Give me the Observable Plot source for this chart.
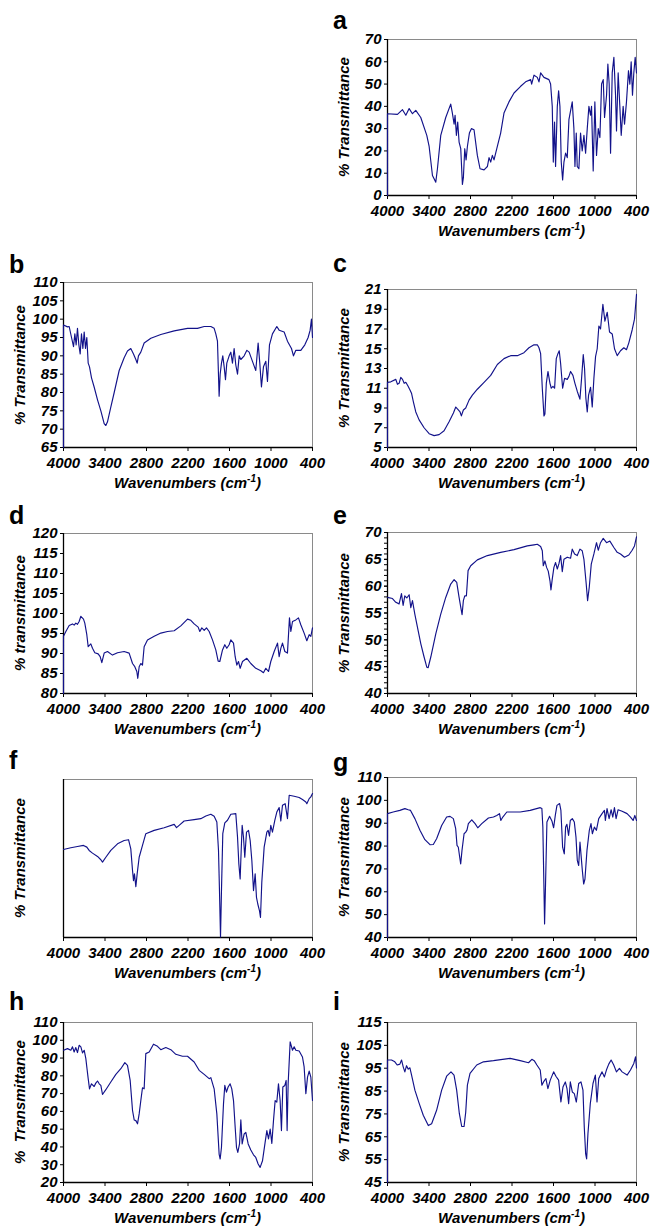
<!DOCTYPE html>
<html><head><meta charset="utf-8">
<script src="https://cdn.jsdelivr.net/npm/d3@7"></script>
<script src="https://cdn.jsdelivr.net/npm/@observablehq/plot@0.6"></script>
<style>
body{margin:0;background:#fff;}
#fig{position:relative;width:651px;height:1226px;overflow:hidden;font-family:"Liberation Sans",Arial,sans-serif;color:#000;}
.letter{position:absolute;font-weight:bold;font-size:25px;line-height:25px;white-space:nowrap;}
.xl{position:absolute;font-weight:bold;font-style:italic;font-size:15px;line-height:15px;white-space:nowrap;transform:translateX(-50%);}
.xl sup{font-size:10px;position:relative;top:-6px;vertical-align:baseline;line-height:0;}
.yl{position:absolute;font-weight:bold;font-style:italic;font-size:15px;line-height:15px;white-space:pre;transform:translate(-50%,-50%) rotate(-90deg);}
</style>
</head><body><div id="fig"></div>
<script>
// x axis (wavenumbers, cm-1)
const xTicks = [4000, 3400, 2800, 2200, 1600, 1000, 400];

// y tick values per panel
const aTicks = [0, 10, 20, 30, 40, 50, 60, 70];
const bTicks = [65, 70, 75, 80, 85, 90, 95, 100, 105, 110];
const cTicks = [5, 7, 9, 11, 13, 15, 17, 19, 21];
const dTicks = [80, 85, 90, 95, 100, 105, 110, 115, 120];
const eTicks = [40, 45, 50, 55, 60, 65, 70];
const eMinor = [40,41,42,43,44,45,46,47,48,49,50,51,52,53,54,55,56,57,58,59,60,61,62,63,64,65,66,67,68,69,70];
const fTicks = [];
const gTicks = [40, 50, 60, 70, 80, 90, 100, 110];
const hTicks = [20, 30, 40, 50, 60, 70, 80, 90, 100, 110];
const iTicks = [45, 55, 65, 75, 85, 95, 105, 115];

// spectra: [wavenumber, % transmittance]
const specA = [[4000,0],[4000,36.7],[3856,36.4],[3783,38.5],[3735,36],[3687,39],[3639,36.7],[3591,38.2],[3519,35],[3432,27],[3398,22],[3350,9],[3302,6],[3278,12],[3230,27],[3158,35],[3086,41],[3062,37],[3037,32],[3023,36],[3004,27],[2985,33],[2965,24],[2941,21],[2917,5],[2903,8],[2883,21],[2864,16],[2845,22],[2816,28],[2787,30],[2749,29.5],[2701,18],[2662,12],[2604,11.5],[2556,13],[2532,17],[2508,15],[2484,18],[2460,16],[2412,22],[2364,28],[2316,37],[2244,42],[2171,46],[2075,49],[2003,51],[1930,52],[1916,50],[1882,54],[1834,53],[1810,51],[1786,55],[1738,53],[1666,52],[1642,50],[1618,40],[1603,15],[1585,33],[1570,13],[1545,40],[1526,47],[1507,40],[1488,15],[1468,7],[1449,15],[1425,19],[1401,17],[1377,34],[1329,42],[1305,30],[1290,13],[1271,28],[1257,13],[1233,12],[1209,28],[1185,20],[1160,27],[1136,19],[1112,30],[1088,40],[1064,36],[1050,40],[1026,11],[1002,42],[978,18],[953,30],[929,26],[905,50],[881,52],[862,35],[833,45],[814,59],[795,50],[775,19],[751,55],[727,62],[703,45],[689,29],[665,55],[641,40],[621,27],[593,40],[573,32],[545,42],[516,56],[496,50],[477,60],[458,45],[439,55],[419,62],[400,55]];
const specB = [[4000,65],[4000,98.4],[3942,97.9],[3918,98],[3884,95],[3855,92.5],[3836,96],[3817,93],[3798,97.5],[3778,93],[3759,90.5],[3740,96],[3720,92],[3701,96.5],[3682,92],[3663,95],[3643,88],[3624,87],[3595,84],[3557,81.5],[3508,78],[3460,75],[3412,71.5],[3388,71],[3364,72],[3316,76],[3267,80],[3195,86],[3123,89.5],[3075,91.3],[3027,92],[2988,90.5],[2954,89],[2935,88],[2916,90],[2882,91],[2834,93.5],[2737,94.8],[2593,95.8],[2400,96.8],[2207,97.5],[2063,97.5],[1966,98],[1870,98],[1822,97.5],[1798,96],[1774,94],[1750,79],[1735,85],[1716,88],[1697,90],[1677,87],[1658,83.5],[1639,88],[1605,90],[1581,91],[1557,88],[1533,92],[1509,87.5],[1484,85],[1460,90],[1436,89],[1388,90],[1349,91.5],[1316,91],[1268,88.5],[1220,86],[1186,93.5],[1162,88],[1138,81.5],[1109,87],[1075,88.5],[1051,83],[1022,93],[979,96],[916,98],[882,97],[810,96.5],[762,94],[704,92],[675,90],[641,91.5],[569,91.5],[511,93],[463,95],[434,97],[415,100],[400,95]];
const specC = [[4000,5],[4000,11.6],[3952,11.65],[3880,11.9],[3856,11.4],[3832,11.5],[3808,12.1],[3783,11.9],[3759,11.5],[3735,11.6],[3702,11.2],[3673,10.8],[3653,10.5],[3625,9.6],[3591,8.6],[3543,7.8],[3471,7.0],[3398,6.4],[3326,6.2],[3254,6.3],[3182,6.7],[3110,7.6],[3047,8.5],[3013,9.1],[2989,8.9],[2951,8.6],[2932,8.2],[2903,8.8],[2869,9.0],[2821,9.8],[2773,10.3],[2701,10.9],[2604,11.6],[2508,12.3],[2412,13.4],[2316,14.0],[2219,14.3],[2123,14.3],[2027,14.6],[1955,15.1],[1882,15.4],[1834,15.4],[1810,15.1],[1786,14.5],[1762,11.0],[1738,8.2],[1724,8.4],[1704,11.5],[1680,12.7],[1651,11.5],[1632,11.0],[1608,11.2],[1584,11.0],[1560,14.0],[1536,14.5],[1517,14.8],[1497,13.5],[1468,11.0],[1440,12.0],[1401,11.9],[1377,12.2],[1353,12.7],[1319,12.3],[1290,11.5],[1257,10.7],[1218,9.9],[1194,12.0],[1170,14.4],[1151,13.0],[1132,10.0],[1112,8.6],[1093,10.3],[1064,11.1],[1040,9.1],[1016,12.0],[992,14.2],[968,15.0],[944,17.3],[920,17.0],[886,19.5],[857,17.8],[823,18.7],[790,16.7],[751,16.5],[718,15.0],[679,14.3],[631,14.8],[583,15.1],[545,14.9],[511,15.6],[463,16.9],[429,18.0],[400,20.5]];
const specD = [[4000,80],[4000,94.3],[3966,95.5],[3918,97],[3870,97.4],[3846,97.1],[3822,97.6],[3798,97.3],[3774,98],[3749,99.3],[3711,98.6],[3692,97.6],[3663,94.7],[3643,91.7],[3605,92.4],[3581,91.3],[3547,90.2],[3499,89.9],[3470,89.2],[3446,87.7],[3412,90.1],[3364,90.5],[3292,89.6],[3219,90.2],[3123,90.5],[3051,90.1],[3002,87.5],[2969,86.7],[2940,85.5],[2926,83.8],[2906,86.7],[2882,87.5],[2858,87.1],[2834,91.7],[2786,93.4],[2689,94.3],[2593,95.1],[2496,95.5],[2400,95.7],[2304,96.9],[2207,98.6],[2159,98.3],[2111,97.4],[2053,96.6],[2029,95.5],[2000,96.4],[1966,95.8],[1933,96.4],[1894,95.5],[1846,93.4],[1798,90.9],[1764,88.1],[1740,88],[1701,90.9],[1668,92.2],[1639,91.3],[1605,92.2],[1581,93.4],[1542,92.6],[1518,89.2],[1494,87.1],[1470,88.0],[1446,86.3],[1412,88.0],[1349,88.8],[1292,87.5],[1220,86.3],[1147,85.7],[1109,85.2],[1075,86.3],[1036,85.5],[1003,88.0],[954,90.5],[906,92.6],[882,89.2],[858,91.3],[834,92.6],[800,90.5],[762,90.1],[733,98.9],[713,95.5],[689,98.0],[641,98.4],[603,98.9],[569,97.2],[521,95.1],[482,93.2],[448,94.7],[424,94.3],[400,96.4]];
const specE = [[4000,57.9],[3928,57.7],[3880,57.0],[3832,56.7],[3798,58.6],[3774,56.4],[3750,58.2],[3721,57.8],[3687,58.4],[3663,56.0],[3639,57.3],[3605,54.8],[3557,51.7],[3519,49.3],[3471,46.8],[3432,44.9],[3413,44.8],[3374,46.8],[3302,51.1],[3230,54.8],[3158,57.9],[3086,60.4],[3037,61.2],[2999,60.7],[2965,57.9],[2941,56.1],[2922,54.7],[2903,57.3],[2883,58.2],[2859,58.2],[2835,62.9],[2797,63.8],[2701,64.9],[2556,65.7],[2364,66.3],[2171,66.8],[1979,67.5],[1882,67.7],[1834,67.8],[1786,67.4],[1762,66.6],[1748,63.8],[1724,64.7],[1700,63.5],[1676,62.8],[1651,61.0],[1637,59.3],[1618,61.3],[1594,63.5],[1570,64.4],[1545,63.2],[1521,64.2],[1497,65.7],[1473,62.7],[1449,65.0],[1401,65.4],[1353,65.2],[1329,66.9],[1295,66.0],[1257,65.7],[1218,66.9],[1185,66.6],[1160,65.0],[1127,60.4],[1107,57.3],[1083,59.8],[1054,64.1],[1016,66.0],[978,68.1],[953,66.7],[920,68.1],[881,68.9],[833,68.1],[785,68.4],[727,67.2],[679,66.3],[631,66.0],[574,65.4],[511,65.8],[463,66.7],[429,67.5],[400,69.2]];
const specF = [[4000,55.7],[3894,56.8],[3798,57.6],[3711,58.3],[3663,57.2],[3629,55.1],[3581,53.4],[3508,51.3],[3460,49.2],[3436,47.7],[3388,50.8],[3316,55.1],[3219,59.3],[3123,61.4],[3060,61.9],[3027,56.1],[3002,42.4],[2988,36.0],[2974,40.3],[2954,32.2],[2935,40.3],[2906,50.8],[2858,58.3],[2810,65.7],[2689,67.8],[2545,69.5],[2400,71.6],[2366,69.5],[2328,71.0],[2256,73.7],[2111,74.6],[2015,75.2],[1942,76.9],[1870,78.0],[1822,76.7],[1783,73.1],[1759,55.1],[1745,29.7],[1730,0.4],[1716,29.7],[1697,65.7],[1668,72.5],[1629,74.2],[1581,78.0],[1509,78.4],[1484,63.6],[1465,46.6],[1446,37.1],[1431,55.1],[1417,71.0],[1398,63.6],[1379,50.8],[1354,66.7],[1325,67.8],[1301,61.4],[1277,48.7],[1253,29.7],[1229,40.3],[1210,25.4],[1191,21.2],[1166,16.9],[1152,12.7],[1133,35.0],[1099,57.2],[1060,66.7],[1041,67.8],[1022,64.2],[1003,71.0],[979,66.7],[945,74.2],[916,79.4],[882,82.2],[858,73.7],[834,83.7],[795,84.7],[762,75.2],[737,90.0],[665,89.4],[593,88.6],[545,87.3],[496,85.8],[482,84.7],[448,87.9],[424,89.0],[400,91.1]];
const specG = [[4000,40],[4000,94.2],[3918,94.9],[3821,95.6],[3749,96.4],[3700,95.9],[3667,95.6],[3604,92.0],[3531,86.9],[3459,82.8],[3386,80.6],[3338,80.7],[3290,83.2],[3217,89.0],[3145,92.7],[3096,93.0],[3048,92.0],[3014,87.6],[2995,80.3],[2976,79.5],[2956,75.1],[2942,72.2],[2923,78.1],[2893,85.4],[2869,86.1],[2850,87.1],[2831,89.8],[2782,91.5],[2734,89.8],[2695,88.0],[2637,89.8],[2541,92.3],[2468,92.7],[2420,93.4],[2381,94.2],[2362,91.2],[2333,92.7],[2275,94.9],[2082,94.9],[1937,95.6],[1792,96.8],[1768,96.4],[1754,88.3],[1739,63.4],[1729,45.9],[1715,63.4],[1695,90.5],[1657,93.0],[1623,91.0],[1598,88.0],[1574,93.4],[1550,97.8],[1512,98.6],[1493,95.6],[1468,79.5],[1444,76.6],[1425,88.3],[1406,89.5],[1382,84.7],[1357,91.2],[1328,92.0],[1299,90.5],[1275,83.9],[1256,73.7],[1236,71.5],[1217,81.7],[1203,76.6],[1183,69.3],[1164,63.4],[1145,65.6],[1116,78.1],[1082,86.9],[1058,89.8],[1038,85.4],[1009,88.3],[980,86.9],[946,92.0],[898,94.2],[864,95.6],[850,91.2],[826,96.4],[796,92.0],[767,95.9],[743,92.7],[719,96.8],[695,92.0],[666,95.9],[608,95.2],[536,94.2],[487,92.7],[449,91.2],[424,93.4],[400,91.2]];
const specH = [[4000,94.4],[3942,95.3],[3894,94.4],[3870,96.3],[3846,93.4],[3822,95.9],[3798,93.1],[3774,97.2],[3749,96.3],[3725,92.9],[3701,94.4],[3677,89.7],[3663,85.0],[3643,78.4],[3624,72.7],[3595,75.5],[3557,74.0],[3533,75.9],[3508,77.1],[3484,75.5],[3460,74.6],[3436,69.5],[3388,72.2],[3316,76.5],[3243,80.8],[3171,84.0],[3113,87.4],[3075,85.9],[3036,77.4],[3002,60.5],[2978,55.2],[2954,54.8],[2930,53.0],[2906,58.6],[2882,66.1],[2858,73.3],[2834,72.7],[2810,92.5],[2761,93.4],[2699,97.8],[2641,96.6],[2593,94.7],[2521,95.9],[2448,94.7],[2376,92.1],[2280,91.0],[2207,91.0],[2111,87.8],[2039,83.1],[1966,80.8],[1894,78.4],[1870,79.0],[1822,72.7],[1783,58.6],[1750,36.0],[1735,33.2],[1716,39.8],[1687,64.2],[1668,74.6],[1644,70.8],[1620,73.7],[1591,75.5],[1567,72.7],[1542,66.1],[1518,51.1],[1499,39.8],[1480,36.9],[1455,41.7],[1436,55.2],[1417,41.7],[1388,47.3],[1364,48.2],[1330,41.7],[1292,38.3],[1253,35.6],[1220,34.1],[1186,30.4],[1157,28.5],[1123,32.2],[1085,42.6],[1060,49.2],[1036,44.5],[1012,50.1],[988,42.0],[964,54.8],[940,66.1],[916,65.2],[892,75.5],[868,66.1],[849,49.2],[829,73.7],[800,74.6],[781,77.4],[767,49.2],[752,75.5],[723,99.1],[689,94.4],[665,96.3],[641,94.4],[593,94.0],[545,90.6],[521,85.0],[496,69.9],[472,79.3],[448,82.7],[424,79.3],[400,66.1]];
const specI = [[4000,45],[4000,98.6],[3942,98.6],[3894,97.8],[3860,96.4],[3821,96.8],[3797,98.6],[3773,95.6],[3749,93.4],[3725,96.1],[3700,94.6],[3676,95.2],[3652,92.0],[3604,85.4],[3541,79.5],[3483,74.4],[3410,69.9],[3362,70.7],[3290,76.6],[3217,85.4],[3145,91.5],[3082,93.4],[3038,92.0],[3000,85.4],[2961,75.1],[2927,69.5],[2893,69.5],[2869,75.8],[2845,87.6],[2807,92.7],[2710,96.4],[2613,97.8],[2468,98.3],[2227,99.3],[2082,98.3],[1961,97.4],[1913,98.9],[1879,98.3],[1840,96.4],[1792,94.2],[1768,87.6],[1744,89.0],[1710,90.5],[1681,86.1],[1647,89.8],[1598,93.4],[1565,91.5],[1526,89.8],[1493,80.2],[1463,86.8],[1429,89.0],[1405,86.1],[1381,79.5],[1357,89.0],[1328,84.6],[1299,83.9],[1270,80.2],[1236,88.3],[1203,89.0],[1174,85.4],[1155,69.2],[1135,57.5],[1121,55.3],[1102,66.3],[1068,79.5],[1029,88.3],[995,92.0],[971,80.2],[946,90.5],[898,93.4],[864,91.2],[835,94.2],[801,96.8],[767,98.6],[729,96.4],[690,93.4],[647,94.9],[608,93.4],[536,92.0],[487,94.2],[439,97.1],[414,100],[400,95.1]];

const panelLetters = ["a","b","c","d","e","f","g","h","i"];
const yLabels = ["% Transmittance","% Transmittance","% Transmittance","% transmittance","% Transmittance","% Transmittance","% Transmittance","%  Transmittance","% Transmittance"];

// layout (page pixels)
const cols = {
  L: {x0: 0, w: 325, fl: 63, fr: 312, letterX: 9},
  R: {x0: 325, w: 326, fl: 387, fr: 636, letterX: 333}
};
const panels = [
  {data: specA, domain: [0,70],   ticks: aTicks, col: "R", top: 39,   bottom: 195,  lb: 29},
  {data: specB, domain: [65,110], ticks: bTicks, col: "L", top: 282,  bottom: 447,  lb: 273},
  {data: specC, domain: [5,21],   ticks: cTicks, col: "R", top: 289,  bottom: 447,  lb: 272},
  {data: specD, domain: [80,120], ticks: dTicks, col: "L", top: 533,  bottom: 693,  lb: 524},
  {data: specE, domain: [40,70],  ticks: eTicks, minor: eMinor, col: "R", top: 532, bottom: 693, lb: 524},
  {data: specF, domain: [0,100],  ticks: fTicks, col: "L", top: 779,  bottom: 937,  lb: 769},
  {data: specG, domain: [40,110], ticks: gTicks, col: "R", top: 777,  bottom: 937,  lb: 771},
  {data: specH, domain: [20,110], ticks: hTicks, col: "L", top: 1022, bottom: 1182, lb: 1010},
  {data: specI, domain: [45,115], ticks: iTicks, col: "R", top: 1022, bottom: 1182, lb: 1010}
];

const fig = document.getElementById("fig");
const font = '"Liberation Sans", Arial, sans-serif';

panels.forEach((p, k) => {
  const c = cols[p.col];
  const mt = 10, mb = 34;
  const h = p.bottom - p.top + mt + mb;
  const rows = p.data.map(([w, t]) => ({w, t}));
  const marks = [
    Plot.frame({stroke: "#8a8a8a", strokeWidth: 1}),
    Plot.axisX({ticks: xTicks, tickFormat: d => String(d), tickSize: 4, tickPadding: 6, label: null, strokeWidth: 1}),
  ];
  if (p.ticks.length) {
    marks.push(Plot.axisY({ticks: p.ticks, tickFormat: d => String(d), tickSize: 3, tickPadding: 3, label: null}));
  }
  if (p.minor) {
    marks.push(Plot.axisY({ticks: p.minor, tickFormat: () => "", tickSize: 3, label: null}));
  }
  marks.push(Plot.ruleX([4000], {stroke: "#000", strokeWidth: 1.3}));
  marks.push(Plot.ruleY([p.domain[0]], {stroke: "#000", strokeWidth: 1.3}));
  marks.push(Plot.line(rows, {x: "w", y: "t", stroke: "#12128a", strokeWidth: 1.15}));

  const svg = Plot.plot({
    width: c.w, height: h,
    marginLeft: c.fl - c.x0, marginRight: c.x0 + c.w - c.fr,
    marginTop: mt, marginBottom: mb,
    x: {domain: [4000, 400], axis: null},
    y: {domain: p.domain, axis: null},
    style: {fontFamily: font, fontSize: "15px", fontWeight: "bold", fontStyle: "italic", color: "#000", background: "transparent", overflow: "visible"},
    marks
  });
  svg.style.position = "absolute";
  svg.style.left = c.x0 + "px";
  svg.style.top = (p.top - mt) + "px";
  fig.appendChild(svg);

  const letter = document.createElement("div");
  letter.className = "letter";
  letter.textContent = panelLetters[k];
  letter.style.left = c.letterX + "px";
  letter.style.top = (p.lb - 21) + "px";
  fig.appendChild(letter);

  const xl = document.createElement("div");
  xl.className = "xl";
  xl.innerHTML = "Wavenumbers (cm<sup>-1</sup>)";
  xl.style.left = ((c.fl + c.fr) / 2) + "px";
  xl.style.top = (p.bottom + 41 - 13) + "px";
  fig.appendChild(xl);

  const yl = document.createElement("div");
  yl.className = "yl";
  yl.textContent = yLabels[k];
  yl.style.left = (c.fl - 44) + "px";
  yl.style.top = ((p.top + p.bottom) / 2) + "px";
  fig.appendChild(yl);
});
</script>
</body></html>
